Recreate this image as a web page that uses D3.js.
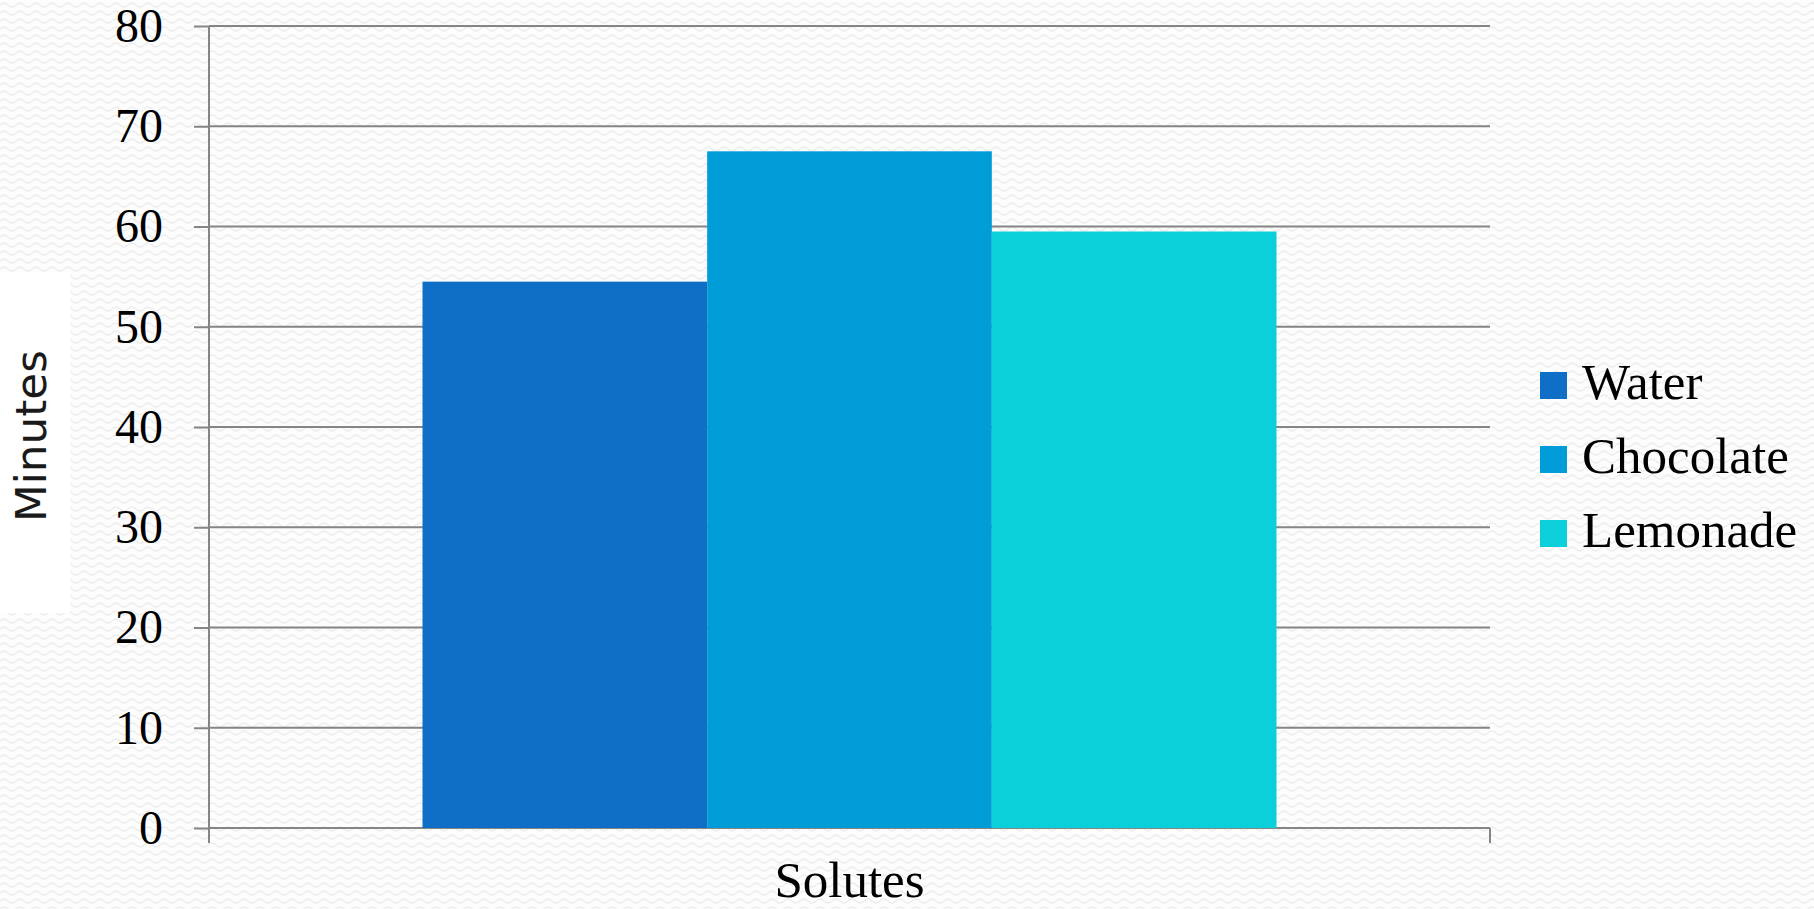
<!DOCTYPE html>
<html>
<head>
<meta charset="utf-8">
<script src="https://cdn.jsdelivr.net/npm/d3@7"></script>
<style>
  html, body { margin: 0; padding: 0; background: #ffffff; }
  svg { display: block; }
  .tick text { font-variant-numeric: oldstyle-nums; }
</style>
</head>
<body>
<div id="chart"></div>
<script>
// Data

const categories = ["Solutes"];
const seriesNames = ["Water", "Chocolate", "Lemonade"];
const seriesValues = [54.5, 67.5, 59.5];
const seriesColors = ["#0f6fc6", "#009dd9", "#0bd0d9"];
const yTicks = [0, 10, 20, 30, 40, 50, 60, 70, 80];
const yTitle = "Minutes";
const xTitle = "Solutes";

const rows = seriesNames.map((name, i) => ({ category: categories[0], name: name, value: seriesValues[i] }));

// Core chart

const width = 1814;
const height = 909;
const margin = { top: 26, bottom: 81, left: 209, right: 324 };
const serif = "Constantia, 'Liberation Serif', 'DejaVu Serif', serif";

const svg = d3
  .select("#chart")
  .append("svg")
  .attr("width", width)
  .attr("height", height);

// slide background: light wavy texture
const defs = svg.append("defs");
const pattern = defs
  .append("pattern")
  .attr("id", "waves")
  .attr("width", 16)
  .attr("height", 8)
  .attr("patternUnits", "userSpaceOnUse");
pattern.append("rect").attr("width", 16).attr("height", 8).attr("fill", "#fdfdfd");
pattern
  .append("path")
  .attr("d", "M0 5 Q4 1 8 5 T16 5")
  .attr("fill", "none")
  .attr("stroke", "#ededed")
  .attr("stroke-width", 1.4);

svg.append("rect").attr("width", width).attr("height", height).attr("fill", "url(#waves)");

const x0 = d3
  .scaleBand()
  .domain(categories)
  .range([margin.left, width - margin.right])
  .paddingInner(0)
  .paddingOuter(0.25);

const x1 = d3.scaleBand().domain(seriesNames).range([0, x0.bandwidth()]);

const yScale = d3
  .scaleLinear()
  .domain([0, 80])
  .range([height - margin.bottom, margin.top]);

const color = d3.scaleOrdinal().domain(seriesNames).range(seriesColors);

// gridlines
svg
  .append("g")
  .selectAll("line")
  .data(yTicks)
  .enter()
  .append("line")
  .attr("x1", margin.left)
  .attr("x2", width - margin.right)
  .attr("y1", (d) => yScale(d))
  .attr("y2", (d) => yScale(d))
  .attr("stroke", "#858585")
  .attr("stroke-width", 2);

// bars
svg
  .append("g")
  .selectAll("rect")
  .data(rows)
  .enter()
  .append("rect")
  .attr("x", (d) => x0(d.category) + x1(d.name))
  .attr("y", (d) => yScale(d.value))
  .attr("width", x1.bandwidth())
  .attr("height", (d) => yScale(0) - yScale(d.value))
  .attr("fill", (d) => color(d.name));

// Axis

const yAxis = svg
  .append("g")
  .attr("transform", `translate(${margin.left}, 0)`)
  .call(d3.axisLeft(yScale).tickValues(yTicks).tickSize(15).tickPadding(31).tickFormat(d3.format("d")));
yAxis.select(".domain").remove();
yAxis.selectAll(".tick line").attr("stroke", "#858585").attr("stroke-width", 2);
yAxis
  .selectAll(".tick text")
  .attr("fill", "#000")
  .style("font-family", serif)
  .style("font-size", "48px");

svg
  .append("line")
  .attr("x1", margin.left)
  .attr("x2", margin.left)
  .attr("y1", margin.top)
  .attr("y2", height - margin.bottom + 15)
  .attr("stroke", "#858585")
  .attr("stroke-width", 2);

const xAxis = svg
  .append("g")
  .attr("transform", `translate(0, ${height - margin.bottom})`)
  .call(d3.axisBottom(x0).tickSize(0).tickFormat(""));
xAxis.select(".domain").remove();

// category boundary ticks on the x axis
svg
  .append("g")
  .selectAll("line")
  .data(x0.range())
  .enter()
  .append("line")
  .attr("x1", (d) => d)
  .attr("x2", (d) => d)
  .attr("y1", height - margin.bottom)
  .attr("y2", height - margin.bottom + 15)
  .attr("stroke", "#858585")
  .attr("stroke-width", 2);

svg
  .append("text")
  .attr("x", x0(categories[0]) + x0.bandwidth() / 2)
  .attr("y", 897)
  .attr("text-anchor", "middle")
  .style("font-family", serif)
  .style("font-size", "51px")
  .attr("fill", "#000")
  .text(xTitle);

// y title sits on a white box
svg.append("rect").attr("x", 0).attr("y", 272).attr("width", 70).attr("height", 341).attr("fill", "#ffffff");

svg
  .append("text")
  .attr("transform", "translate(46, 436) rotate(-90)")
  .attr("text-anchor", "middle")
  .style("font-family", "'DejaVu Sans', sans-serif")
  .style("font-size", "42px")
  .attr("textLength", 172)
  .attr("lengthAdjust", "spacingAndGlyphs")
  .attr("fill", "#1a1a1a")
  .text(yTitle);

// Legend

const legend = svg
  .append("g")
  .selectAll("g")
  .data(seriesNames)
  .enter()
  .append("g")
  .attr("transform", (d, i) => `translate(1540, ${372 + i * 74})`);

legend
  .append("rect")
  .attr("width", 27)
  .attr("height", 27)
  .attr("fill", (d) => color(d));

legend
  .append("text")
  .attr("x", 42)
  .attr("y", 27)
  .style("font-family", serif)
  .style("font-size", "51px")
  .attr("fill", "#000")
  .text((d) => d);
</script>
</body>
</html>
